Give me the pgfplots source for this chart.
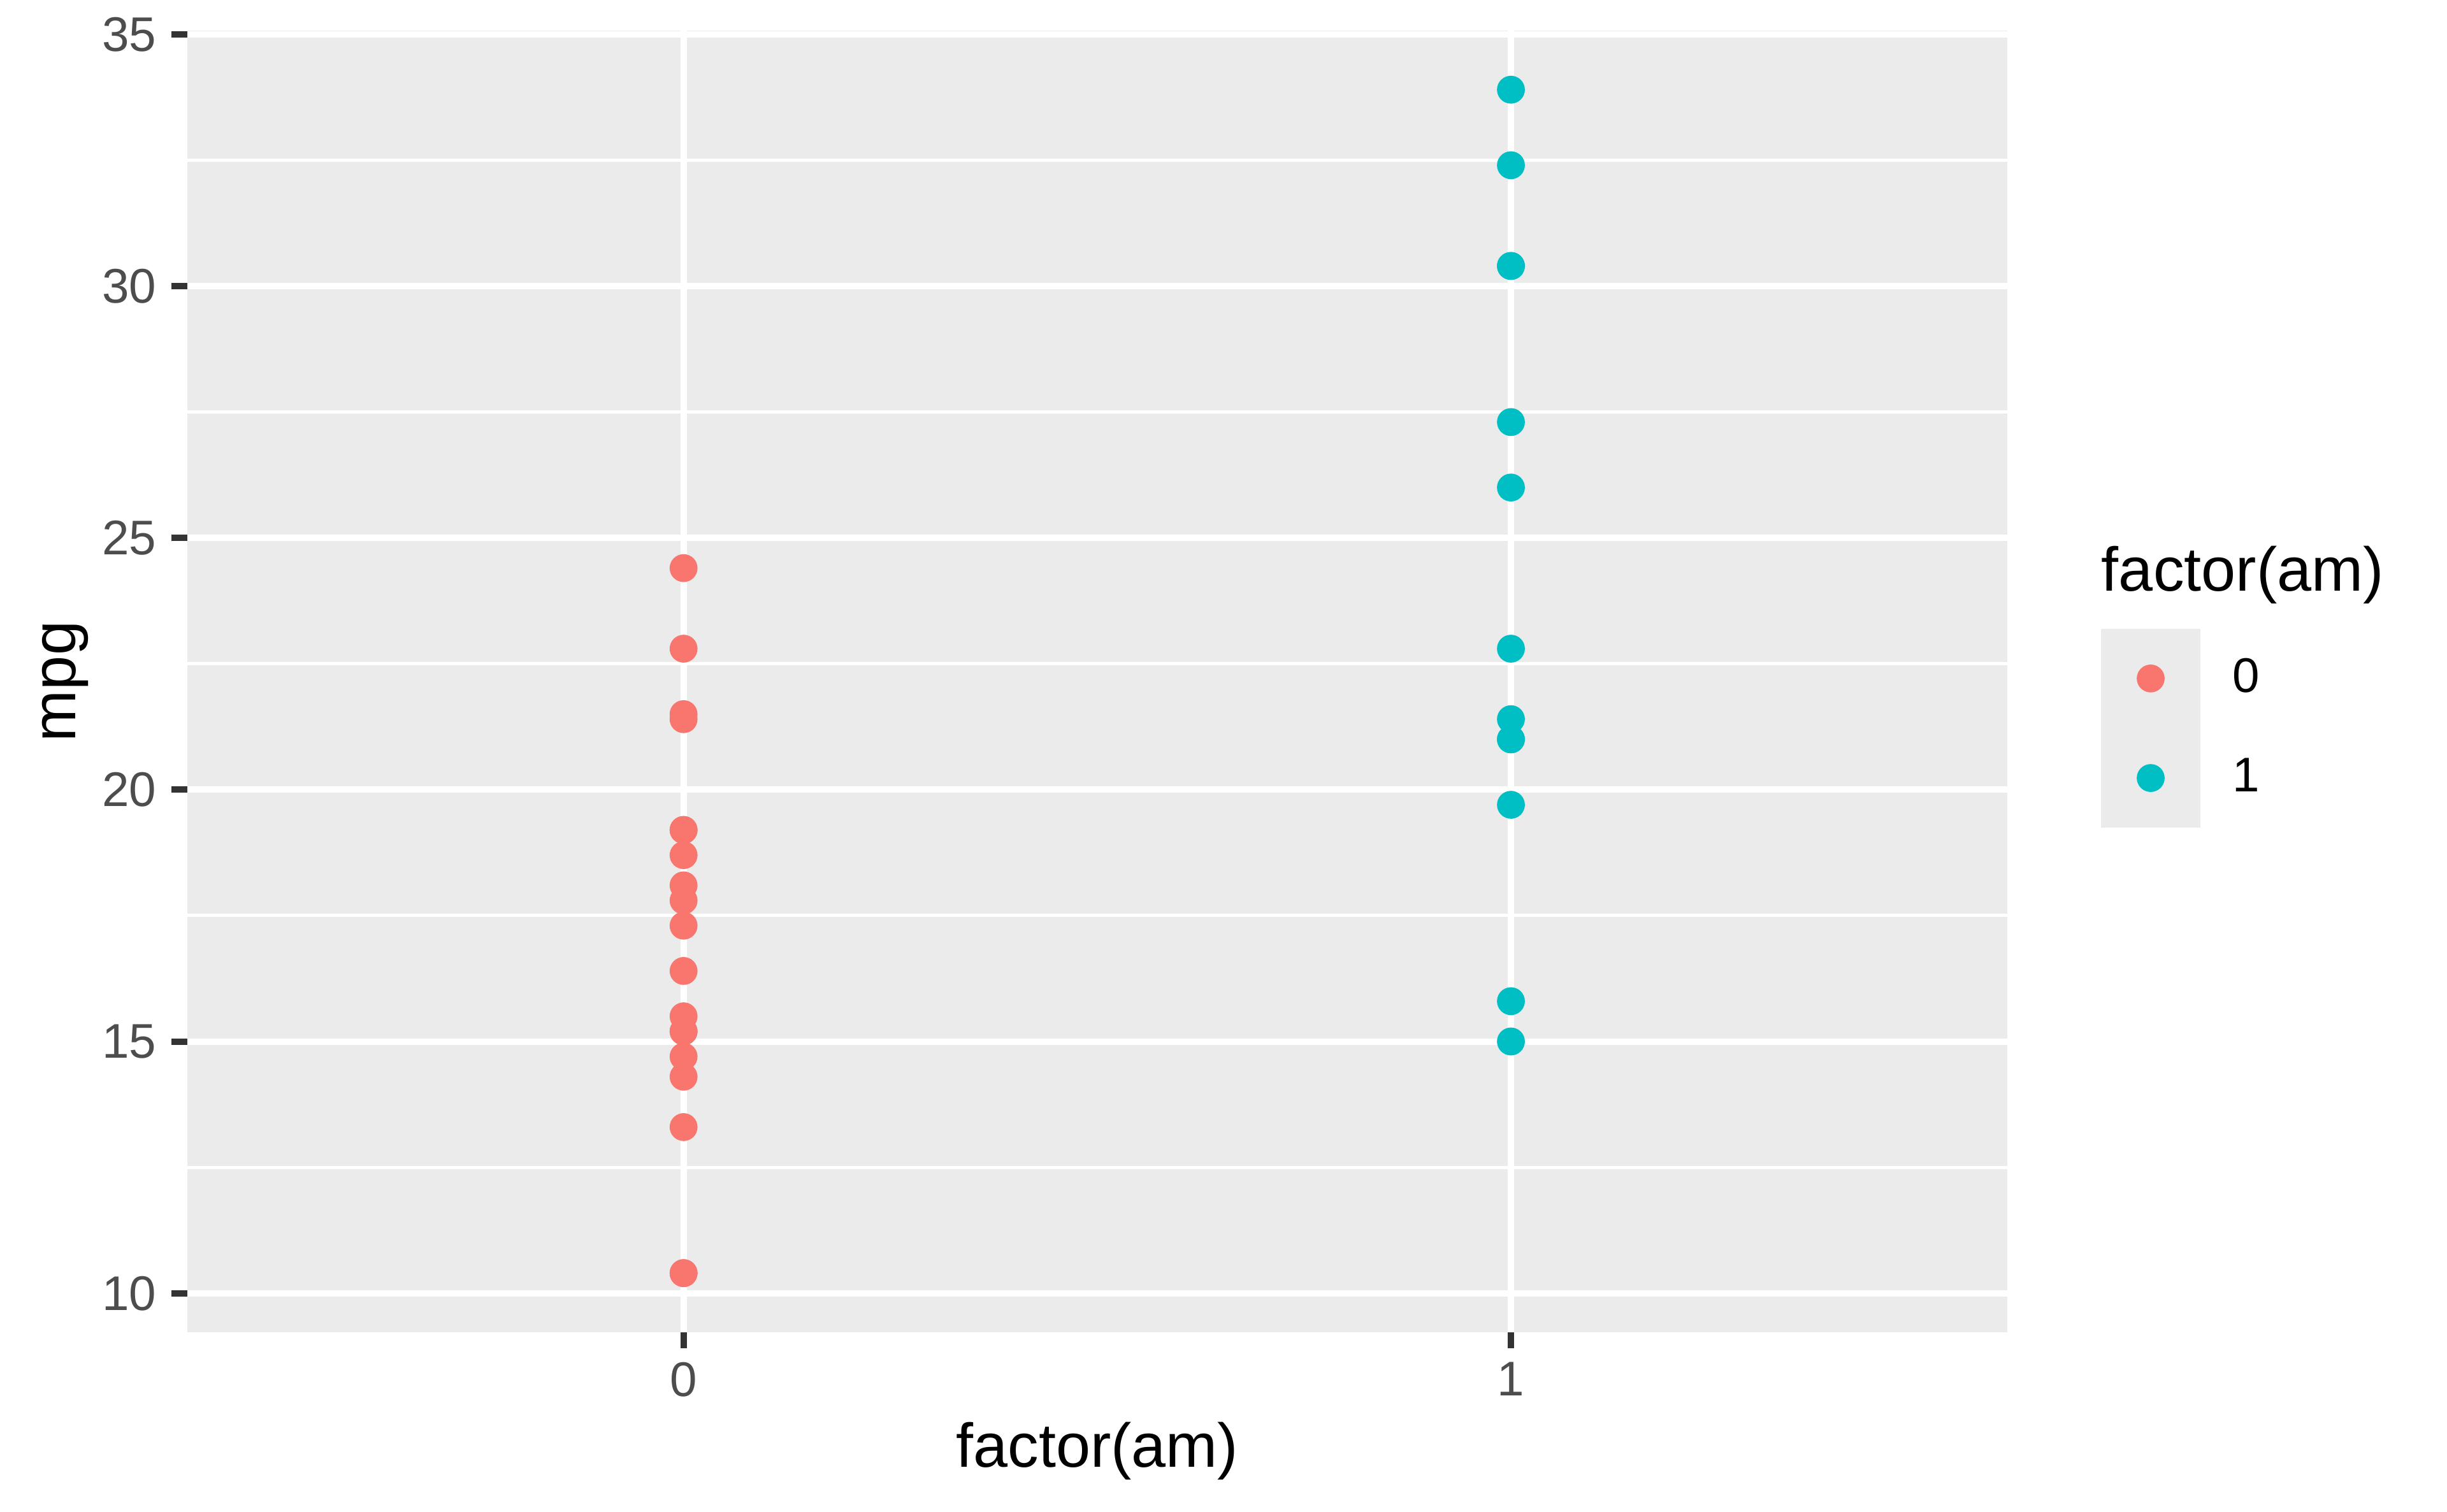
\documentclass[border=0pt]{standalone}
\usepackage{pgfplots}
\pgfplotsset{compat=1.18}
\usepackage{fontspec}
\setmainfont{Liberation Sans}

\definecolor{ggred}{HTML}{F8766D}
\definecolor{ggcyan}{HTML}{00BFC4}
\definecolor{ggpanel}{HTML}{EBEBEB}
\definecolor{ggtick}{HTML}{333333}
\definecolor{ggtext}{HTML}{4D4D4D}

\begin{document}
\begin{tikzpicture}
% page size = reference proportions
\path[use as bounding box] (-42.3bp,-40.6bp) rectangle (510.66bp,301.1bp);
\begin{axis}[
  scale only axis, width=411.3bp, height=294.2bp,
  xmin=-0.6, xmax=1.6, ymin=9.225, ymax=35.075,
  xtick={0,1}, ytick={10,15,...,35},
  minor ytick={12.5,17.5,22.5,27.5,32.5},
  axis background/.style={fill=ggpanel},
  axis x line*=bottom, axis y line*=left,
  axis line style={draw=none},
  grid=both,
  major grid style={white, line width=1.44bp},
  minor grid style={white, line width=0.72bp},
  tick align=outside,
  major tick length=3.6bp, minor tick length=0pt,
  tick style={ggtick, line width=1.44bp},
  /pgf/number format/assume math mode=true,
  ticklabel style={font=\fontsize{11bp}{13bp}\selectfont, text=ggtext, inner sep=0pt},
  xticklabel style={yshift=-3bp},
  yticklabel style={xshift=-3.2bp},
  label style={font=\fontsize{14bp}{17bp}\selectfont},
  xlabel={factor(am)},
  xlabel style={at={(axis description cs:0.5,-0.10367)}, anchor=base},
  ylabel={mpg},
  ylabel style={at={(axis description cs:-0.06127,0.5)}, anchor=base, rotate=0},
  legend style={at={(axis description cs:1.0513,0.5405)}, anchor=north west,
    draw=none, fill=none, inner sep=0pt, outer sep=0pt, row sep=0pt,
    font=\fontsize{11bp}{13bp}\selectfont,
    nodes={inner sep=0pt, anchor=west}},
  legend image code/.code={
    \fill[ggpanel] (-11.1bp,-11.05bp) rectangle (11.1bp,11.05bp);
    \draw[#1] plot coordinates {(0bp,0bp)};
    \path (18.3bp,0bp);
  },
]
\addplot[only marks, mark=*, mark size=2.95bp, color=ggred, mark options={draw=none, fill=ggred}]
  coordinates {
  (0,21.4) (0,18.7) (0,18.1) (0,14.3) (0,24.4) (0,22.8) (0,19.2) (0,17.8)
  (0,16.4) (0,17.3) (0,15.2) (0,10.4) (0,10.4) (0,14.7) (0,21.5) (0,15.5)
  (0,15.2) (0,13.3) (0,19.2)};
\addlegendentry{0}
\addplot[only marks, mark=*, mark size=2.95bp, color=ggcyan, mark options={draw=none, fill=ggcyan}]
  coordinates {
  (1,21.0) (1,21.0) (1,22.8) (1,32.4) (1,30.4) (1,33.9) (1,27.3) (1,26.0)
  (1,30.4) (1,15.8) (1,19.7) (1,15.0) (1,21.4)};
\addlegendentry{1}
\end{axis}
% legend title
\node[anchor=base west, font=\fontsize{14bp}{17bp}\selectfont, inner sep=0pt]
  at (432.4bp,167.6bp) {factor(am)};
\end{tikzpicture}
\end{document}
